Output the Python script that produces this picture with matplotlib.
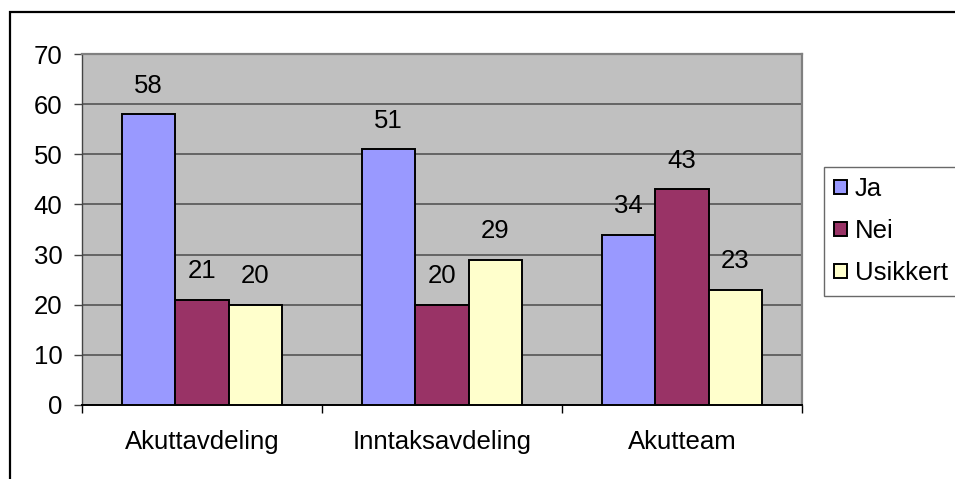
import numpy as np
import matplotlib
matplotlib.use("Agg")
import matplotlib.pyplot as plt
from matplotlib.patches import Rectangle

plt.rcParams['font.family'] = ['Liberation Sans', 'DejaVu Sans']

# Survey answers per unit
categories = ['Akuttavdeling', 'Inntaksavdeling', 'Akutteam']
series_names = ['Ja', 'Nei', 'Usikkert']
ja_values = [58, 51, 34]
nei_values = [21, 20, 43]
usikkert_values = [20, 29, 23]
y_ticks = [0, 10, 20, 30, 40, 50, 60, 70]

series_values = [ja_values, nei_values, usikkert_values]
series_colors = ['#9999FF', '#993366', '#FFFFCC']

W, H = 955, 479
fig = plt.figure(figsize=(W / 100, H / 100), dpi=100)
fig.patch.set_facecolor('white')

# outer chart frame (runs off the right and bottom edge)
fig.patches.append(Rectangle((10 / W, -0.1), 1.2, (H - 12) / H + 0.1,
                             transform=fig.transFigure, fill=False,
                             edgecolor='black', linewidth=1.6, zorder=0))

ax = fig.add_axes([82 / W, (H - 405) / H, (802 - 82) / W, (405 - 54) / H])
ax.set_facecolor('#C0C0C0')

x = np.arange(len(categories))
bar_w = 1 / 4.5
fs = 18.5

for i, (name, vals, col) in enumerate(zip(series_names, series_values, series_colors)):
    b = ax.bar(x + (i - 1) * bar_w, vals, width=bar_w, color=col,
               edgecolor='black', linewidth=1.4, label=name, zorder=3)
    for rect, v in zip(b, vals):
        ax.annotate(str(v), (rect.get_x() + rect.get_width() / 2, v),
                    xytext=(0, 12), textcoords='offset points',
                    ha='center', va='bottom', fontsize=fs, zorder=4)

ax.set_xlim(-0.5, len(categories) - 0.5)
ax.set_ylim(0, 70)
ax.set_yticks(y_ticks)
ax.yaxis.grid(True, color='#555555', linewidth=1.2, zorder=1)
ax.set_axisbelow(True)

# category labels between boundary ticks
ax.set_xticks(np.arange(-0.5, len(categories), 1.0))
ax.set_xticklabels([])
ax.set_xticks(x, minor=True)
ax.set_xticklabels(categories, minor=True, fontsize=fs)
ax.tick_params(axis='x', which='minor', length=0, pad=18)
ax.tick_params(axis='x', which='major', length=6, width=1, color='black', direction='out')
ax.tick_params(axis='y', length=6, width=1, color='#444444', pad=8, labelsize=fs)

for side in ['top', 'right']:
    ax.spines[side].set_color('#808080')
    ax.spines[side].set_linewidth(1.6)
ax.spines['left'].set_color('#444444')
ax.spines['left'].set_linewidth(1.0)
ax.spines['bottom'].set_color('black')
ax.spines['bottom'].set_linewidth(1.4)

leg = fig.legend(loc='upper left', bbox_to_anchor=(824 / W, (H - 167) / H),
                 fontsize=fs, frameon=True, fancybox=False, edgecolor='#444444',
                 handlelength=0.5, handleheight=0.5, handletextpad=0.3,
                 labelspacing=0.7, borderpad=0.4, borderaxespad=0)
leg.get_frame().set_linewidth(1.0)

fig.savefig('out.png', dpi=100, facecolor='white')
